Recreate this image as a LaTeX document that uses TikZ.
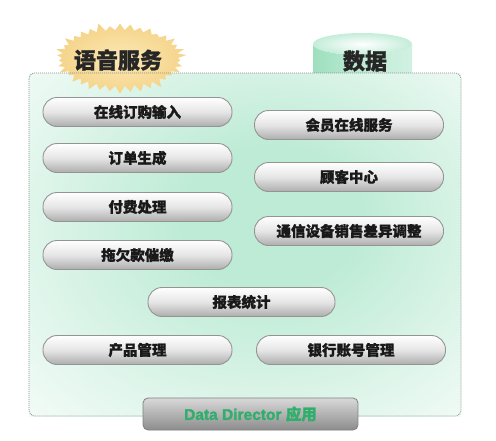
\documentclass[tikz,border=0pt]{standalone}
\usepackage{fontspec}
\newfontfamily\cjk{Noto Sans CJK SC}[FakeBold=1.2]
\newfontfamily\lat{Liberation Sans}[FakeBold=1.5]
\usetikzlibrary{shapes.symbols,shapes.geometric}
\definecolor{mint}{HTML}{BDEBD5}
\definecolor{mintdark}{HTML}{9EDFBE}
\definecolor{gold}{HTML}{F5D48A}
\definecolor{goldlight}{HTML}{FBE8B5}
\definecolor{ddgreen}{HTML}{2FAE6C}
\pgfdeclareradialshading{boxshade}{\pgfpoint{4bp}{5bp}}{color(0bp)=(mint); color(10bp)=(mint); color(28bp)=(white!55!mint); color(44bp)=(white); color(50bp)=(white)}
\tikzset{
  pillbox/.style={rectangle, rounded corners=14pt, minimum width=189pt, minimum height=29pt,
    top color=white, bottom color=black!32, middle color=white!90!black, draw=black!42, line width=0.9pt,
    font=\cjk\bfseries\fontsize{14.5}{16}\selectfont, text=black!90, inner sep=0pt},
  bigtext/.style={font=\cjk\bfseries\fontsize{22}{24}\selectfont, text=black!85, inner sep=0pt},
  ddtext/.style={font=\lat\bfseries\fontsize{15.5}{17}\selectfont, inner sep=0pt},
}
\begin{document}
\begin{tikzpicture}[x=1pt,y=-1pt]
\useasboundingbox (0,0) rectangle (496,440);
\fill[white] (0,0) rectangle (496,440);
% cylinder (data)
\shade[left color=mintdark, right color=mint!70, middle color=mint] (313,44) -- (313,80) -- (412,80) -- (412,44) arc[start angle=0,end angle=-180,x radius=49.5,y radius=-11] -- cycle;
\shade[inner color=white, outer color=mint!90] (362.5,44) ellipse[x radius=49.5, y radius=11];
% main box background
\shade[shading=boxshade] (29,73) rectangle (461,416);
% starburst
\node (star) [starburst, starburst points=38, starburst point height=9pt, minimum width=134pt, minimum height=74pt,
  inner color=goldlight, outer color=gold, draw=none] at (120,58) {};
\node (voice) [bigtext] at (118,60) {语音服务};
\node (data) [bigtext] at (365,61) {数据};
% dashed border
\draw[black!45, dash pattern=on 1pt off 1pt, line width=0.7pt, rounded corners=6pt] (29,73) rectangle (461,416);
% pills
\node (p1) [pillbox] at (137.5,112) {在线订购输入};
\node (p2) [pillbox] at (137.5,158) {订单生成};
\node (p3) [pillbox] at (137.5,207) {付费处理};
\node (p4) [pillbox] at (137.5,255) {拖欠款催缴};
\node (q1) [pillbox] at (349,125) {会员在线服务};
\node (q2) [pillbox] at (349,177) {顾客中心};
\node (q3) [pillbox] at (349,231) {通信设备销售差异调整};
\node (c1) [pillbox, minimum width=187pt] at (241.5,302) {报表统计};
\node (p5) [pillbox] at (137.5,350) {产品管理};
\node (q4) [pillbox] at (351,350) {银行账号管理};
% data director box
\node (dd) [rectangle, rounded corners=5pt, minimum width=215pt, minimum height=32pt,
  top color=black!15, bottom color=black!45, draw=black!50, line width=0.8pt] at (250.5,414) {};
\node (ddt) [ddtext, text=ddgreen] at (dd.center) {Data Director {\cjk\bfseries 应用}};
\end{tikzpicture}
\end{document}
